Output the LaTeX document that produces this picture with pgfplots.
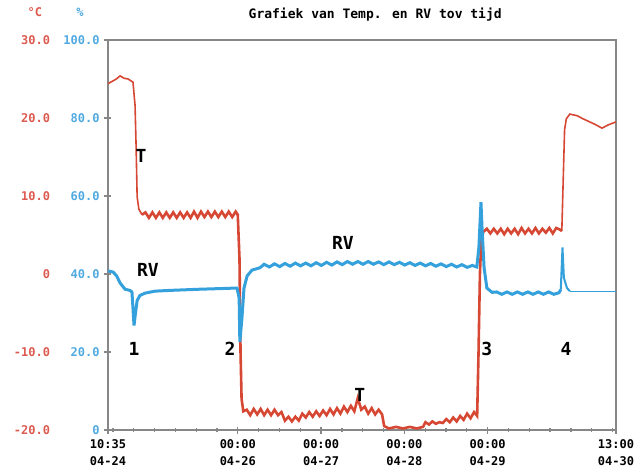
\documentclass[border=0pt]{standalone}
\usepackage{pgfplots}
\pgfplotsset{compat=1.18}
\usepackage{fontspec}
\setmainfont{DejaVu Sans Mono}

\definecolor{tred}{RGB}{214,72,52}
\definecolor{rvblue}{RGB}{52,160,220}
\definecolor{lred}{RGB}{220,90,80}
\definecolor{lblue}{RGB}{80,170,225}
\definecolor{axgray}{RGB}{135,135,135}

\newcommand{\tickfont}{\fontsize{6}{8.5}\selectfont\bfseries}
\newcommand{\notefont}{\fontsize{9}{9}\selectfont\bfseries}

\begin{document}
\begin{tikzpicture}
% temperatuur (links, rood)
\begin{axis}[
  width=254pt, height=195pt, scale only axis,
  xmin=0, xmax=146.42, ymin=-20, ymax=30,
  clip=false,
  axis line style={draw=axgray, line width=1pt},
  tick style={axgray, line width=0.6pt},
  tick align=center,
  xtick pos=bottom, ytick pos=left,
  major tick length=3.5pt, minor tick length=2pt,
  xtick={0,37.42,61.42,85.42,109.42,146.42},
  xticklabels={{10:35\\04-24},{00:00\\04-26},{00:00\\04-27},{00:00\\04-28},{00:00\\04-29},{13:00\\04-30}},
  minor xtick={1.42,7.42,13.42,19.42,25.42,31.42,43.42,49.42,55.42,67.42,73.42,79.42,91.42,97.42,103.42,115.42,121.42,127.42,133.42,139.42,145.42},
  xticklabel style={align=center, font=\tickfont, inner sep=0pt, yshift=-3pt},
  ytick={-20,-10,0,10,20,30},
  yticklabels={-20.0,-10.0,0,10.0,20.0,30.0},
  yticklabel style={font=\tickfont, text=lred, anchor=east, inner sep=0pt, xshift=-27pt},
]
\addplot[tred, line width=0.8pt] coordinates {
(0,24.4) (1.2,24.7) (2.4,25.0) (3.5,25.4) (4.6,25.1) (5.8,25.0) (7.2,24.6)
(7.8,21.6) (8.1,16.4) (8.4,9.9) (8.9,8.3) (9.8,7.6)
};
\addplot[tred, line width=1.3pt] coordinates {
(9.8,7.6) (10.8,7.9) (11.8,7.2) (12.8,7.9) (13.8,7.2) (14.8,7.9) (15.8,7.2) (16.8,7.9)
(17.8,7.2) (18.8,7.9) (19.8,7.2) (20.8,7.9) (21.8,7.2) (22.8,7.9) (23.8,7.2)
(24.8,8.0) (25.8,7.2) (26.8,8.0) (27.8,7.3) (28.8,8.0) (29.8,7.3) (30.8,8.0)
(31.8,7.3) (32.8,8.0) (33.8,7.3) (34.8,8.0) (35.8,7.3) (36.8,8.0) (37.4,7.6)
(37.9,2.0) (38.2,-10.0) (38.5,-16.0) (39.0,-17.6)
(40,-17.4) (41,-18.1) (42,-17.3) (43,-18.0) (44,-17.3) (45,-18.1) (46,-17.4)
(47,-18.1) (48,-17.4) (49,-18.1) (50,-17.7)
(51,-18.8) (52,-18.3) (53,-18.9) (54,-18.3) (55,-18.8)
(56,-17.9) (57,-18.4) (58,-17.7) (59,-18.3) (60,-17.6) (61,-18.2) (62,-17.5)
(63,-18.1) (64,-17.3) (65,-18.0) (66,-17.2) (67,-17.9) (68,-17.0) (69,-17.7)
(70,-16.9) (71,-17.6) (72,-15.9) (73,-17.4) (74,-17.0) (75,-17.9) (76,-17.2)
(77,-18.0) (78,-17.4) (79,-18.0)
(79.6,-19.5) (81,-19.8) (83,-19.6) (85,-19.8) (87,-19.6) (89,-19.8) (90.8,-19.6)
(91.5,-19.0) (92.5,-19.3) (93.5,-18.9) (94.5,-19.2) (95.5,-19.0)
(96.5,-19.1) (97.5,-18.6) (98.5,-19.0) (99.5,-18.4) (100.5,-18.9) (101.5,-18.2)
(102.5,-18.7) (103.5,-17.9) (104.5,-18.5) (105.5,-17.7) (106.4,-18.2)
(106.8,-10) (107.2,0) (107.6,4.5) (108.2,5.4)
(109.2,5.8) (110.2,5.2) (111.2,5.8) (112.2,5.2) (113.2,5.8) (114.2,5.1)
(115.2,5.8) (116.2,5.2) (117.2,5.8) (118.2,5.1) (119.2,5.9) (120.2,5.2)
(121.2,5.8) (122.2,5.2) (123.2,5.9) (124.2,5.2) (125.2,5.8) (126.2,5.3)
(127.2,5.9) (128.2,5.2) (129.2,5.9) (130.2,5.7) (130.8,5.5)
};
\addplot[tred, line width=0.8pt] coordinates {
(130.8,5.5) (131.2,12) (131.6,18.5) (132.1,19.9) (133.1,20.5) (135.2,20.3) (136.9,19.9)
(140.3,19.2) (142.4,18.7) (144.1,19.1) (146.4,19.5)
};
% labels in de grafiek
\node[font=\notefont] at (axis cs:9.5,15.1) {T};
\node[font=\notefont] at (axis cs:11.5,0.5) {RV};
\node[font=\notefont] at (axis cs:7.5,-9.6) {1};
\node[font=\notefont] at (axis cs:35.2,-9.6) {2};
\node[font=\notefont] at (axis cs:67.7,4.0) {RV};
\node[font=\notefont] at (axis cs:72.6,-15.5) {T};
\node[font=\notefont] at (axis cs:109.2,-9.6) {3};
\node[font=\notefont] at (axis cs:132.0,-9.6) {4};
% titel en eenheden
\node[font=\fontsize{6.5}{7}\selectfont\bfseries] at (rel axis cs:0.526,1) [yshift=12.5pt] {Grafiek van Temp. en RV tov tijd};
\node[font=\tickfont, text=lred] at (rel axis cs:-0.144,1) [yshift=14pt] {°C};
\node[font=\tickfont, text=lblue] at (rel axis cs:-0.055,1) [yshift=14pt] {\%};
\coordinate (sw) at (rel axis cs:0,0);
\coordinate (ne) at (rel axis cs:1,1);
\end{axis}

% relatieve vochtigheid (blauw)
\begin{axis}[
  width=254pt, height=195pt, scale only axis,
  xmin=0, xmax=146.42, ymin=0, ymax=100,
  hide x axis, axis y line*=left,
  axis line style={draw=none},
  major tick length=0pt,
  ytick={0,20,40,60,80,100},
  yticklabels={0,20.0,40.0,60.0,80.0,100.0},
  yticklabel style={font=\tickfont, text=lblue, anchor=east, inner sep=0pt, xshift=-4pt},
]
\addplot[rvblue, line width=1.5pt] coordinates {
(0,40.8) (1.5,40.5) (2.5,39.5) (3.5,37.7) (4.9,36.1) (6.3,35.8) (6.9,35.4)
(7.2,31.2) (7.5,26.8) (7.8,29.1) (8.4,33.2) (9.2,34.5) (10.7,35.1) (13.5,35.6)
(17.9,35.8) (26.5,36.1) (37.2,36.4)
(37.8,33.8) (38.0,22.6) (38.6,28.6) (39.2,36.4) (40.1,39.5) (41.5,41.0) (43.8,41.6)
(45,42.5) (46.5,41.8) (48,42.6) (49.5,41.9) (51,42.7) (52.5,42.0) (54,42.8)
(55.5,42.1) (57,42.8) (58.5,42.1) (60,42.9) (61.5,42.2) (63,43.0) (64.5,42.3)
(66,43.1) (67.5,42.4) (69,43.2) (70.5,42.5) (72,43.2) (73.5,42.5) (75,43.2)
(76.5,42.5) (78,43.1) (79.5,42.4) (81,43.1) (82.5,42.4) (84,43.0) (85.5,42.3)
(87,42.9) (88.5,42.2) (90,42.8) (91.5,42.1) (93,42.7) (94.5,42.0) (96,42.6)
(97.5,41.9) (99,42.5) (100.5,41.8) (102,42.4) (103.5,41.7) (105,42.2) (106.3,41.8)
(106.9,46.8) (107.5,58.4) (107.8,51.9) (108.4,41.6) (109.2,36.4) (110.7,35.3)
(112,35.4) (113.5,34.8) (115,35.4) (116.5,34.8) (118,35.4) (119.5,34.8)
(121,35.4) (122.5,34.8) (124,35.4) (125.5,34.8) (127,35.4) (128.5,34.8)
(130,35.2) (130.5,36.0)
};
\addplot[rvblue, line width=1.0pt] coordinates {
(130.5,36.0) (131.0,46.8) (131.4,39.0) (132.3,36.4) (133.1,35.6)
};
\addplot[rvblue, line width=0.5pt] coordinates {
(133.1,35.6) (146.4,35.6)
};
\end{axis}

\pgfresetboundingbox
\path ([xshift=-54pt,yshift=-21.5pt]sw) rectangle ([xshift=10pt,yshift=20pt]ne);
\end{tikzpicture}
\end{document}
